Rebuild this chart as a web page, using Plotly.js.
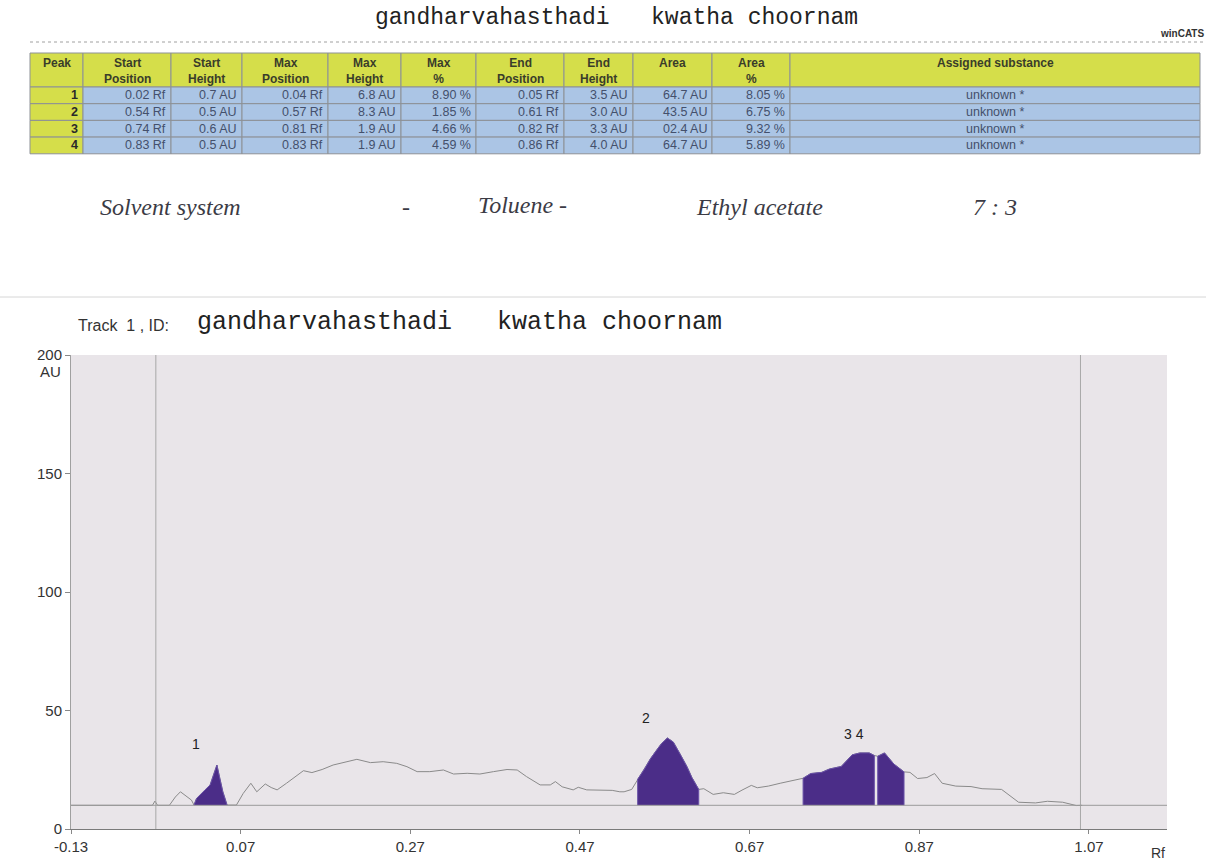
<!DOCTYPE html>
<html>
<head>
<meta charset="utf-8">
<script src="https://cdn.plot.ly/plotly-3.0.1.min.js"></script>
<style>
  html, body { margin: 0; padding: 0; background: #ffffff; }
  #chart { width: 1206px; height: 860px; }
</style>
</head>
<body>
<div id="chart"></div>
<script>
// ---------- Data ----------
// Densitogram trace (Rf, AU)
const rfValues = [
  -0.13, -0.034, -0.031, -0.028, -0.014, -0.007, -0.001, 0.006, 0.012,
  0.015, 0.018, 0.028, 0.034, 0.038, 0.042, 0.045, 0.049, 0.054,
  0.065, 0.073, 0.082, 0.089, 0.099, 0.106, 0.113, 0.124, 0.144, 0.154,
  0.166, 0.179, 0.191, 0.207, 0.223, 0.238, 0.254, 0.266, 0.278, 0.293,
  0.309, 0.321, 0.337, 0.352, 0.368, 0.384, 0.396, 0.407, 0.423, 0.435,
  0.441, 0.449, 0.462, 0.468, 0.478, 0.498, 0.508, 0.517, 0.522, 0.531,
  0.538, 0.546, 0.553, 0.560, 0.566, 0.573, 0.580, 0.589, 0.596, 0.602, 0.610,
  0.616, 0.627, 0.639, 0.652, 0.661, 0.672, 0.679, 0.692, 0.706, 0.719,
  0.733, 0.742, 0.755, 0.764, 0.778, 0.791, 0.800, 0.811, 0.817,
  0.821, 0.829, 0.840, 0.852,
  0.859, 0.868, 0.879, 0.888, 0.897, 0.913, 0.931, 0.944, 0.967, 0.978,
  0.987, 1.007, 1.021, 1.039, 1.055, 1.062
];
const auValues = [
  10.0, 10.0, 11.8, 10.0, 10.0, 13.5, 15.7, 14.0, 12.2,
  10.1, 12.9, 16.5, 18.6, 22.8, 27.0, 22.1, 15.7, 10.1,
  10.1, 15.0, 19.3, 15.7, 19.0, 17.5, 16.5, 19.3, 24.6, 23.8,
  25.1, 27.0, 28.0, 29.4, 28.0, 28.4, 27.7, 26.3, 24.2, 24.2,
  24.9, 23.2, 23.5, 23.2, 24.2, 25.1, 24.9, 22.1, 18.6, 18.6,
  20.0, 17.8, 16.5, 17.6, 16.5, 16.2, 16.3, 15.7, 15.7, 16.7,
  21.0, 25.3, 29.6, 33.1, 36.0, 38.4, 36.7, 31.0, 26.4, 21.7, 16.7,
  17.0, 14.6, 15.3, 14.6, 16.4, 18.4, 17.4, 18.1, 19.3, 20.3,
  21.4, 23.4, 23.9, 25.3, 26.4, 31.3, 32.1, 32.1, 31.0,
  30.7, 32.1, 27.4, 24.1,
  23.9, 21.3, 21.7, 23.4, 19.3, 18.1, 17.9, 17.0, 16.7, 13.9,
  11.3, 11.0, 11.7, 11.3, 9.9, 10.0
];
const baselineAU = 10.0;

// Integration windows of the peaks (Rf)
const peakLabels = ["1", "2", "3", "4"];
const peakFromRf = [0.015, 0.538, 0.733, 0.821];
const peakToRf   = [0.054, 0.610, 0.817, 0.852];

// Table values
const tablePeak   = ["1", "2", "3", "4"];
const startPosRf  = ["0.02", "0.54", "0.74", "0.83"];
const startHtAU   = ["0.7", "0.5", "0.6", "0.5"];
const maxPosRf    = ["0.04", "0.57", "0.81", "0.83"];
const maxHtAU     = ["6.8", "8.3", "1.9", "1.9"];
const maxPct      = ["8.90", "1.85", "4.66", "4.59"];
const endPosRf    = ["0.05", "0.61", "0.82", "0.86"];
const endHtAU     = ["3.5", "3.0", "3.3", "4.0"];
const areaAU      = ["64.7", "43.5", "02.4", "64.7"];
const areaPct     = ["8.05", "6.75", "9.32", "5.89"];
const substance   = ["unknown *", "unknown *", "unknown *", "unknown *"];
const tableHeader = ["Peak", "Start<br>Position", "Start<br>Height", "Max<br>Position",
  "Max<br>Height", "Max<br>%", "End<br>Position", "End<br>Height", "Area", "Area<br>%",
  "Assigned substance"];

// Axis ticks
const xTicks = [-0.13, 0.07, 0.27, 0.47, 0.67, 0.87, 1.07];
const yTicks = [0, 50, 100, 150, 200];

// ---------- Build ----------
const W = 1206, H = 860;
const px = v => v / W;
const py = v => 1 - v / H;

const traces = [];

// Densitogram line
traces.push({
  type: "scatter", mode: "lines",
  x: rfValues, y: auValues,
  line: { color: "#8a8a8a", width: 1 },
  hoverinfo: "skip", showlegend: false
});

// Filled peaks, built from the trace inside each integration window
for (let i = 0; i < peakLabels.length; i++) {
  const xs = [], ys = [];
  xs.push(peakFromRf[i]); ys.push(baselineAU);
  for (let k = 0; k < rfValues.length; k++) {
    if (rfValues[k] >= peakFromRf[i] - 1e-9 && rfValues[k] <= peakToRf[i] + 1e-9) {
      xs.push(rfValues[k]); ys.push(auValues[k]);
    }
  }
  xs.push(peakToRf[i]); ys.push(baselineAU);
  traces.push({
    type: "scatter", mode: "lines",
    x: xs, y: ys, fill: "toself",
    fillcolor: "#4b2d88",
    line: { color: "#6a52a8", width: 1 },
    hoverinfo: "skip", showlegend: false
  });
}

const hand = { family: "Liberation Serif, DejaVu Serif", size: 24, color: "#3b3b45", style: "italic" };
const mono = { family: "Liberation Mono, DejaVu Sans Mono", size: 23, color: "#222222" };
const sans = (s, c) => ({ family: "Liberation Sans, Arial", size: s, color: c || "#333" });

const annotations = [
  { text: "gandharvahasthadi   kwatha choornam", xref: "paper", yref: "paper",
    x: px(617), y: py(18), xanchor: "center", yanchor: "middle", showarrow: false, font: mono },
  { text: "<b>winCATS</b>", xref: "paper", yref: "paper", x: px(1206), y: py(33),
    xanchor: "right", yanchor: "middle", showarrow: false, font: sans(10) },
  { text: "Solvent system", xref: "paper", yref: "paper", x: px(98), y: py(207),
    xanchor: "left", yanchor: "middle", showarrow: false, font: hand },
  { text: "-", xref: "paper", yref: "paper", x: px(406), y: py(207),
    xanchor: "center", yanchor: "middle", showarrow: false, font: hand },
  { text: "Toluene -", xref: "paper", yref: "paper", x: px(476), y: py(205),
    xanchor: "left", yanchor: "middle", showarrow: false, font: hand },
  { text: "Ethyl acetate", xref: "paper", yref: "paper", x: px(694), y: py(207),
    xanchor: "left", yanchor: "middle", showarrow: false, font: hand },
  { text: "7 : 3", xref: "paper", yref: "paper", x: px(971), y: py(207),
    xanchor: "left", yanchor: "middle", showarrow: false, font: hand },
  { text: "Track  1 , ID:", xref: "paper", yref: "paper", x: px(76), y: py(325),
    xanchor: "left", yanchor: "middle", showarrow: false, font: sans(16) },
  { text: "gandharvahasthadi   kwatha choornam", xref: "paper", yref: "paper", x: px(195), y: py(323),
    xanchor: "left", yanchor: "middle", showarrow: false,
    font: { family: "Liberation Mono, DejaVu Sans Mono", size: 25, color: "#222" } },
  { text: "AU", xref: "paper", yref: "paper", x: px(63), y: py(372),
    xanchor: "right", yanchor: "middle", showarrow: false, font: sans(15) },
  { text: "Rf", xref: "paper", yref: "paper", x: px(1167), y: py(853),
    xanchor: "right", yanchor: "middle", showarrow: false, font: sans(14) },
  // peak numbers
  { text: "1", xref: "x", yref: "y", x: 0.017, y: 36, showarrow: false, font: sans(14, "#222") },
  { text: "2", xref: "x", yref: "y", x: 0.548, y: 47, showarrow: false, font: sans(14, "#222") },
  { text: "3 4", xref: "x", yref: "y", x: 0.793, y: 40, showarrow: false, font: sans(14, "#222") }
];

const shapes = [
  // dotted rule under title
  { type: "line", xref: "paper", yref: "paper", x0: px(30), x1: 1, y0: py(42), y1: py(42),
    line: { color: "#a0a0a0", width: 1, dash: "dot" } },
  // faint separator
  { type: "line", xref: "paper", yref: "paper", x0: 0, x1: 1, y0: py(297), y1: py(297),
    line: { color: "#d6d6d6", width: 1 } },
  // track start/end markers
  { type: "line", xref: "x", yref: "paper", x0: -0.03, x1: -0.03, y0: py(829), y1: py(355),
    line: { color: "#a8a8a8", width: 1 } },
  { type: "line", xref: "x", yref: "paper", x0: 1.06, x1: 1.06, y0: py(829), y1: py(355),
    line: { color: "#a8a8a8", width: 1 } },
  // baseline
  { type: "line", xref: "paper", yref: "y", x0: px(71), x1: px(1167), y0: baselineAU, y1: baselineAU,
    line: { color: "#9a9a9a", width: 1 } }
];

// ---------- Results table (cells drawn as shapes + text) ----------
const colEdges = [30, 83, 171, 242, 328, 401, 476, 564, 633, 712, 790, 1200];
const headTop = 53, headBottom = 87, rowH = 16.7;
const yellow = "#d5de4a", blue = "#abc5e5", grid = "#8d9196";
const columns = [
  tablePeak.map(v => "<b>" + v + "</b>"),
  startPosRf.map(v => v + " Rf"),
  startHtAU.map(v => v + " AU"),
  maxPosRf.map(v => v + " Rf"),
  maxHtAU.map(v => v + " AU"),
  maxPct.map(v => v + " %"),
  endPosRf.map(v => v + " Rf"),
  endHtAU.map(v => v + " AU"),
  areaAU.map(v => v + " AU"),
  areaPct.map(v => v + " %"),
  substance
];
for (let c = 0; c < columns.length; c++) {
  const x0 = colEdges[c], x1 = colEdges[c + 1];
  shapes.push({ type: "rect", xref: "paper", yref: "paper", layer: "below",
    x0: px(x0), x1: px(x1), y0: py(headBottom), y1: py(headTop),
    fillcolor: yellow, line: { color: grid, width: 1 } });
  annotations.push({ text: "<b>" + tableHeader[c] + "</b>", xref: "paper", yref: "paper",
    x: px((x0 + x1) / 2), y: py(headTop + 1), xanchor: "center", yanchor: "top",
    align: "center", showarrow: false, font: sans(12, "#3a3d2a") });
  for (let r = 0; r < columns[c].length; r++) {
    const y0 = headBottom + r * rowH, y1 = y0 + rowH;
    shapes.push({ type: "rect", xref: "paper", yref: "paper", layer: "below",
      x0: px(x0), x1: px(x1), y0: py(y1), y1: py(y0),
      fillcolor: c === 0 ? yellow : blue, line: { color: grid, width: 1 } });
    const centered = c === columns.length - 1;
    annotations.push({ text: columns[c][r], xref: "paper", yref: "paper",
      x: centered ? px((x0 + x1) / 2) : px(x1 - 3), y: py((y0 + y1) / 2),
      xanchor: centered ? "center" : "right", yanchor: "middle", showarrow: false,
      font: sans(12.5, c === 0 ? "#2a2a2a" : "#44506c") });
  }
}

const layout = {
  width: W, height: H,
  margin: { l: 0, r: 0, t: 0, b: 0 },
  paper_bgcolor: "#ffffff",
  plot_bgcolor: "#e9e5e9",
  showlegend: false,
  font: { family: "Liberation Sans, Arial", size: 13, color: "#333" },
  xaxis: {
    domain: [px(71), px(1167)],
    range: [-0.13, 1.162],
    tickvals: xTicks,
    ticktext: xTicks.map(v => v.toFixed(2)),
    ticks: "outside", ticklen: 4, tickcolor: "#888",
    showgrid: false, zeroline: false,
    showline: true, linecolor: "#7a7a7a", linewidth: 1,
    tickfont: sans(15),
    fixedrange: true
  },
  yaxis: {
    domain: [py(829), py(355)],
    range: [0, 200],
    tickvals: yTicks,
    ticks: "outside", ticklen: 5, tickcolor: "#888",
    showgrid: false, zeroline: false,
    showline: true, linecolor: "#a0a0a0", linewidth: 1,
    tickfont: sans(15),
    fixedrange: true
  },
  annotations: annotations,
  shapes: shapes
};

Plotly.newPlot("chart", traces, layout, { displayModeBar: false, staticPlot: true });
</script>
</body>
</html>
